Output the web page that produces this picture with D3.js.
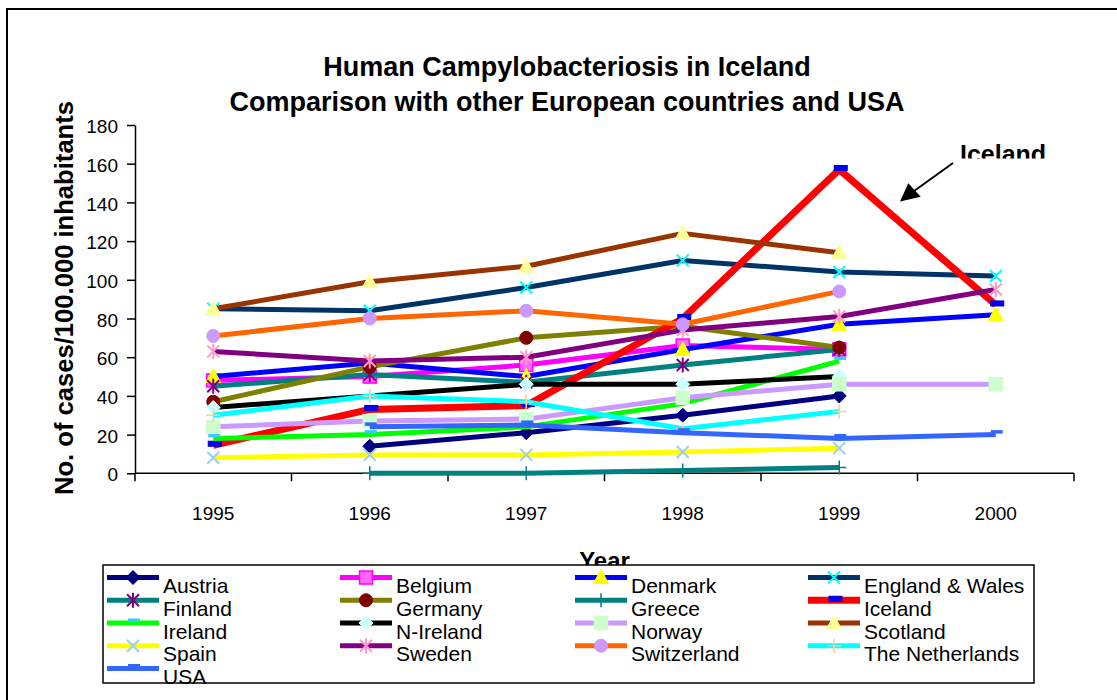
<!DOCTYPE html>
<html>
<head>
<meta charset="utf-8">
<script src="https://cdn.jsdelivr.net/npm/d3@7"></script>
<style>
  html, body { margin: 0; padding: 0; background: #fff; }
  svg { display: block; font-family: "Liberation Sans", Arial, sans-serif; }
</style>
</head>
<body>
<svg id="chart" width="1117" height="700"></svg>
<script>
// ---------------- DATA ----------------
const years = [1995, 1996, 1997, 1998, 1999, 2000];
const yTicks = [0, 20, 40, 60, 80, 100, 120, 140, 160, 180];

const austria      = [null, 14, 21, 30, 40, null];
const belgium      = [48, 50, 56, 66, 64, null];
const denmark      = [50, 57, 50, 64, 77, 82];
const englandWales = [85, 84, 96, 110, 104, 102];
const finland      = [45, 51, 47, 56, 64, null];
const germany      = [37, 55, 70, 76, 65, null];
const greece       = [null, 0, 0, 1.5, 3, null];
const iceland      = [14.5, 33, 35, 80, 157, 87];
const ireland      = [18, 20, 24, 36, 58, null];
const nIreland     = [34, 40, 46, 46, 50, null];
const norway       = [24, 27, 28, 39, 46, 46];
const scotland     = [85, 99, 107, 124, 114, null];
const spain        = [8, 9.5, 9.5, 11, 13, null];
const sweden       = [63, 58, 60, 74, 81, 95];
const switzerland  = [71, 80, 84, 77, 94, null];
const netherlands  = [30, 40, 37, 23, 32, null];
const usa          = [null, 24, 25, 21, 18, 20];

const seriesNames = ["Austria", "Belgium", "Denmark", "England & Wales", "Finland", "Germany",
  "Greece", "Iceland", "Ireland", "N-Ireland", "Norway", "Scotland", "Spain", "Sweden",
  "Switzerland", "The Netherlands", "USA"];
const seriesValues = [austria, belgium, denmark, englandWales, finland, germany, greece, iceland,
  ireland, nIreland, norway, scotland, spain, sweden, switzerland, netherlands, usa];

// ---------------- STYLES ----------------
const styles = {
  "Austria":         {line: "#000080", marker: "diamond",  mfill: "#000080", mstroke: "#000080"},
  "Belgium":         {line: "#FF00FF", marker: "square",   mfill: "#FF66FF", mstroke: "#FF00FF"},
  "Denmark":         {line: "#0000FF", marker: "triangle", mfill: "#FFFF00", mstroke: "#FFFF00"},
  "England & Wales": {line: "#003366", marker: "x",        mfill: "none",    mstroke: "#00FFFF"},
  "Finland":         {line: "#008080", marker: "asterisk", mfill: "none",    mstroke: "#800080"},
  "Germany":         {line: "#808000", marker: "circle",   mfill: "#800000", mstroke: "#800000"},
  "Greece":          {line: "#008080", marker: "plus",     mfill: "none",    mstroke: "#008080"},
  "Iceland":         {line: "#FF0000", marker: "bar",      mfill: "#0000FF", mstroke: "#0000CC", width: 7},
  "Ireland":         {line: "#00FF00", marker: "dash",     mfill: "#33CCFF", mstroke: "#33CCFF"},
  "N-Ireland":       {line: "#000000", marker: "diamond",  mfill: "#CCFFFF", mstroke: "#CCFFFF"},
  "Norway":          {line: "#CC99FF", marker: "square",   mfill: "#CCFFCC", mstroke: "#CCFFCC"},
  "Scotland":        {line: "#993300", marker: "triangle", mfill: "#FFFF99", mstroke: "#FFFF99"},
  "Spain":           {line: "#FFFF00", marker: "x",        mfill: "none",    mstroke: "#99CCFF"},
  "Sweden":          {line: "#800080", marker: "asterisk", mfill: "none",    mstroke: "#FF99CC"},
  "Switzerland":     {line: "#FF6600", marker: "circle",   mfill: "#CC99FF", mstroke: "#CC99FF"},
  "The Netherlands": {line: "#00FFFF", marker: "plus",     mfill: "none",    mstroke: "#FFCC99"},
  "USA":             {line: "#3366FF", marker: "dash",     mfill: "#3366FF", mstroke: "#3366FF"}
};

// ---------------- LAYOUT ----------------
const svg = d3.select("#chart");
const plot = {left: 135, right: 1074, top: 125, bottom: 473.3};

const x = d3.scaleBand().domain(years).range([plot.left, plot.right]).padding(0);
const y = d3.scaleLinear().domain([0, 180]).range([plot.bottom, plot.top]);
const cx = d => x(d) + x.bandwidth() / 2;

// outer border
svg.append("rect").attr("x", 7).attr("y", 9).attr("width", 1200).attr("height", 800)
  .attr("fill", "none").attr("stroke", "#000").attr("stroke-width", 2);

// title
const title = svg.append("text").attr("text-anchor", "middle")
  .attr("font-weight", "bold").attr("font-size", 27).attr("fill", "#000");
title.append("tspan").attr("x", 567).attr("y", 76).text("Human Campylobacteriosis in Iceland");
title.append("tspan").attr("x", 567).attr("y", 111).text("Comparison with other European countries and USA");

// y axis
const yAxis = svg.append("g").attr("transform", `translate(${plot.left},0)`)
  .call(d3.axisLeft(y).tickValues(yTicks).tickSize(8).tickSizeOuter(0).tickPadding(9));
yAxis.select(".domain").attr("stroke", "#000").attr("stroke-width", 1.5);
yAxis.selectAll(".tick line").attr("stroke", "#000").attr("stroke-width", 1.5);
yAxis.selectAll(".tick text").attr("font-size", 19).attr("font-family", "Liberation Sans, Arial, sans-serif")
  .attr("fill", "#000").attr("dy", "0.4em");

// x axis
const xg = svg.append("g");
xg.append("line").attr("x1", plot.left).attr("x2", plot.right)
  .attr("y1", plot.bottom).attr("y2", plot.bottom).attr("stroke", "#000").attr("stroke-width", 1.5);
const tickPos = years.map(d => x(d)).concat([x(years[years.length - 1]) + x.bandwidth()]);
xg.selectAll("line.xt").data(tickPos).join("line").attr("class", "xt")
  .attr("x1", d => d).attr("x2", d => d).attr("y1", plot.bottom).attr("y2", plot.bottom + 8)
  .attr("stroke", "#000").attr("stroke-width", 1.5);
xg.selectAll("text.xl").data(years).join("text").attr("class", "xl")
  .attr("x", d => cx(d)).attr("y", 520).attr("text-anchor", "middle")
  .attr("font-size", 19).attr("fill", "#000").text(d => d);

// axis titles
svg.append("text").attr("x", 604.5).attr("y", 569).attr("text-anchor", "middle")
  .attr("font-weight", "bold").attr("font-size", 24).text("Year");
svg.append("text").attr("transform", "translate(73,298) rotate(-90)")
  .attr("text-anchor", "middle").attr("font-weight", "bold").attr("font-size", 25.6)
  .text("No. of cases/100.000 inhabitants");

// marker drawing
function drawMarker(g, type, px, py, st) {
  const s = 7;
  if (type === "diamond") {
    g.append("path").attr("d", `M${px},${py - s}L${px + s},${py}L${px},${py + s}L${px - s},${py}Z`)
      .attr("fill", st.mfill).attr("stroke", st.mstroke).attr("stroke-width", 1);
  } else if (type === "square") {
    g.append("rect").attr("x", px - 6.5).attr("y", py - 6.5).attr("width", 13).attr("height", 13)
      .attr("fill", st.mfill).attr("stroke", st.mstroke).attr("stroke-width", 1.5);
  } else if (type === "triangle") {
    g.append("path").attr("d", `M${px},${py - 8}L${px + 7.5},${py + 6}L${px - 7.5},${py + 6}Z`)
      .attr("fill", st.mfill).attr("stroke", st.mstroke).attr("stroke-width", 1);
  } else if (type === "circle") {
    g.append("circle").attr("cx", px).attr("cy", py).attr("r", 6.5)
      .attr("fill", st.mfill).attr("stroke", st.mstroke).attr("stroke-width", 1);
  } else if (type === "x") {
    g.append("path").attr("d", `M${px - 6},${py - 6}L${px + 6},${py + 6}M${px - 6},${py + 6}L${px + 6},${py - 6}`)
      .attr("stroke", st.mstroke).attr("stroke-width", 2).attr("fill", "none");
  } else if (type === "asterisk") {
    g.append("path").attr("d", `M${px - 6},${py - 6}L${px + 6},${py + 6}M${px - 6},${py + 6}L${px + 6},${py - 6}M${px},${py - 7.5}L${px},${py + 7.5}`)
      .attr("stroke", st.mstroke).attr("stroke-width", 2).attr("fill", "none");
  } else if (type === "plus") {
    g.append("path").attr("d", `M${px - 7},${py}L${px + 7},${py}M${px},${py - 7}L${px},${py + 7}`)
      .attr("stroke", st.mstroke).attr("stroke-width", 1.5).attr("fill", "none");
  } else if (type === "bar") {
    g.append("rect").attr("x", px - 5).attr("y", py - 4).attr("width", 13).attr("height", 5)
      .attr("fill", st.mfill).attr("stroke", st.mstroke).attr("stroke-width", 1);
  } else if (type === "dash") {
    g.append("rect").attr("x", px - 5).attr("y", py - 4.5).attr("width", 12).attr("height", 3.5)
      .attr("fill", st.mfill);
  }
}

// series
const lineGen = d3.line().defined(d => d.v !== null).x(d => cx(d.year)).y(d => y(d.v));
const seriesG = svg.append("g");
seriesNames.forEach((name, i) => {
  const st = styles[name];
  const pts = years.map((yr, j) => ({year: yr, v: seriesValues[i][j]}));
  const g = seriesG.append("g");
  g.append("path").attr("d", lineGen(pts)).attr("fill", "none")
    .attr("stroke", st.line).attr("stroke-width", st.width || 5)
    .attr("stroke-linejoin", "round").attr("stroke-linecap", "butt");
  pts.filter(d => d.v !== null).forEach(d => drawMarker(g, st.marker, cx(d.year), y(d.v), st));
});

// Iceland annotation
svg.append("defs").append("clipPath").attr("id", "annClip")
  .append("rect").attr("x", 900).attr("y", 120).attr("width", 200).attr("height", 38.5);
svg.append("text").attr("x", 960).attr("y", 163).attr("font-weight", "bold").attr("font-size", 25)
  .attr("clip-path", "url(#annClip)").text("Iceland");
svg.append("line").attr("x1", 953).attr("y1", 163).attr("x2", 912).attr("y2", 192.5)
  .attr("stroke", "#000").attr("stroke-width", 2);
svg.append("path").attr("d", "M900,201.5L908.3,183.3L920.7,196.7Z").attr("fill", "#000");

// legend
const lg = svg.append("g");
lg.append("rect").attr("x", 103).attr("y", 565).attr("width", 931).attr("height", 118)
  .attr("fill", "#fff").attr("stroke", "#000").attr("stroke-width", 1.5);
const colX = [107, 340, 575, 808];
seriesNames.forEach((name, i) => {
  const st = styles[name];
  const col = i % 4, row = Math.floor(i / 4);
  const lx = colX[col], ly = 577.5 + row * 22.75;
  const g = lg.append("g");
  g.append("line").attr("x1", lx).attr("x2", lx + 52).attr("y1", ly).attr("y2", ly)
    .attr("stroke", st.line).attr("stroke-width", st.width || 5);
  drawMarker(g, st.marker, lx + 26, ly, st);
  g.append("text").attr("x", lx + 56).attr("y", ly + 15.5).attr("font-size", 21).attr("fill", "#000").text(name);
});
</script>
</body>
</html>
